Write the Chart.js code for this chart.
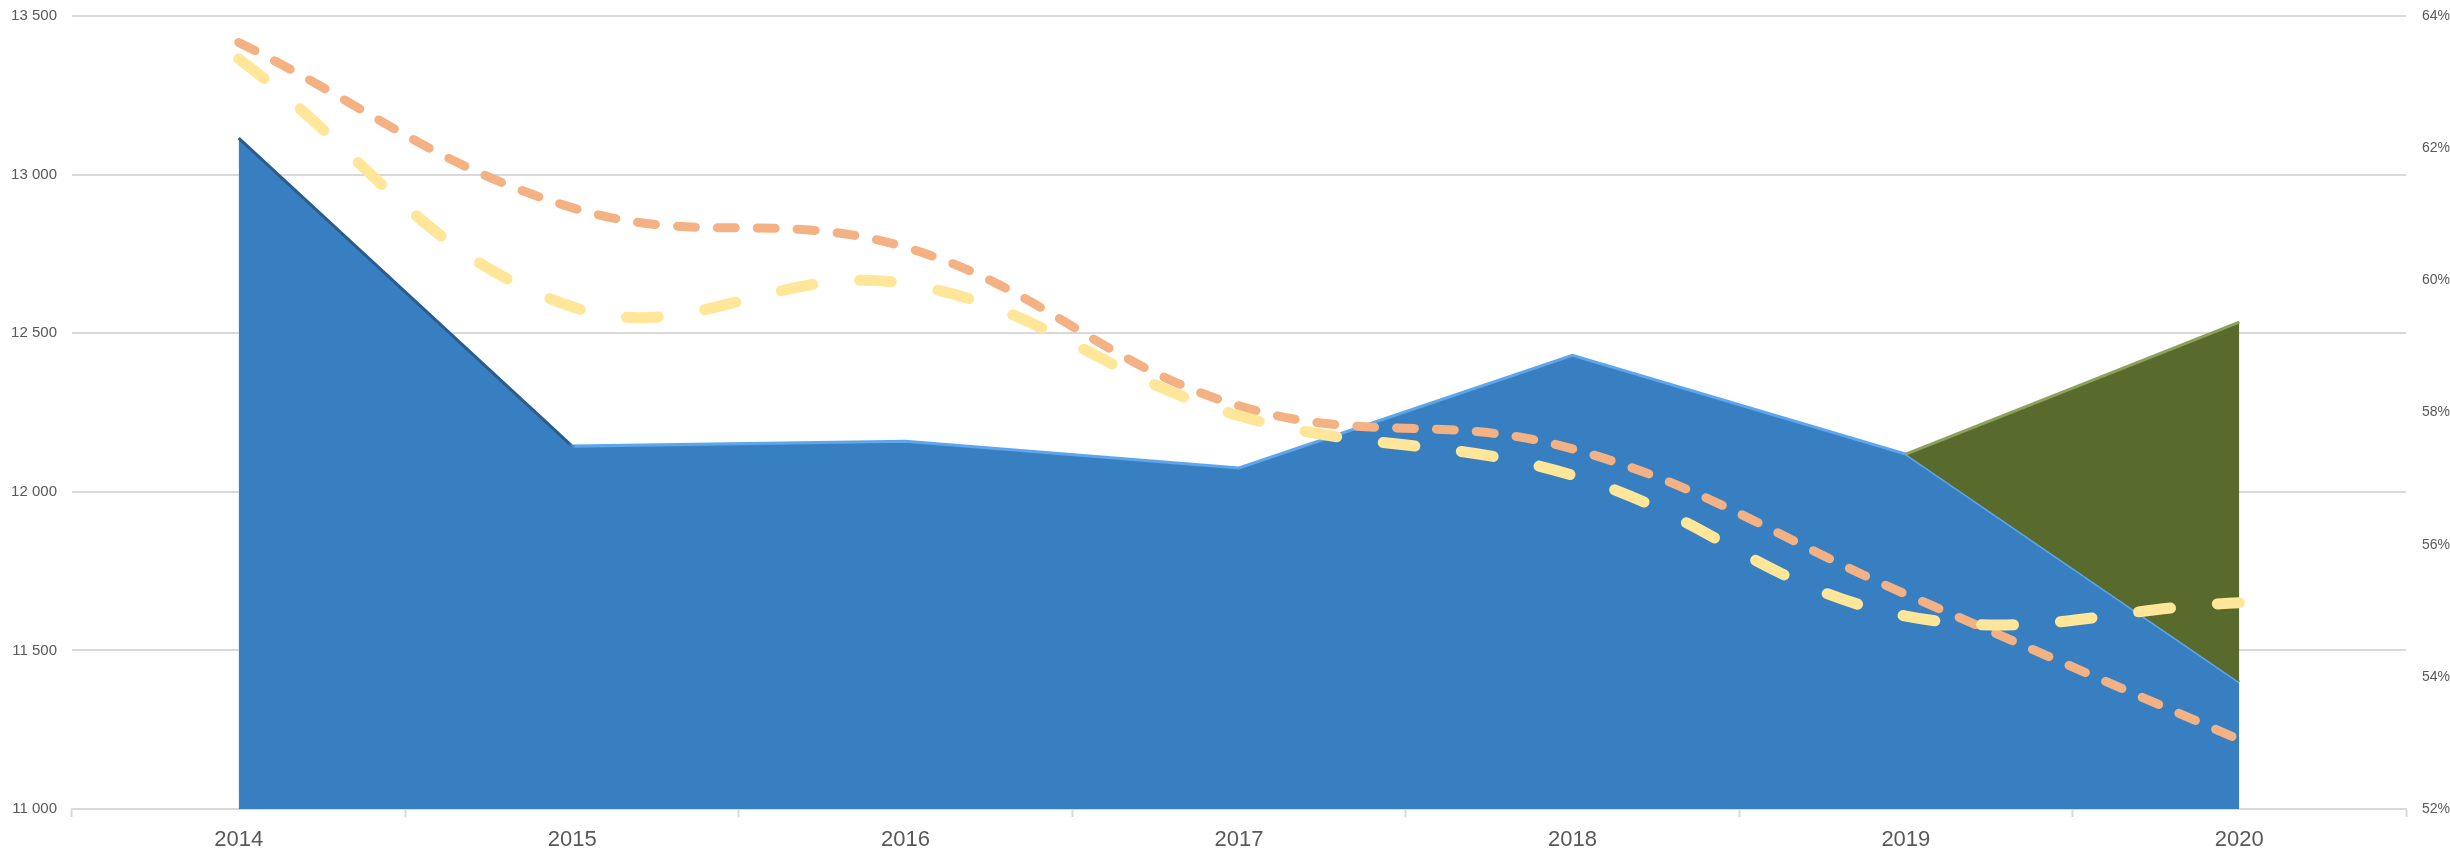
<!DOCTYPE html>
<html>
<head>
<meta charset="utf-8">
<script src="https://cdn.jsdelivr.net/npm/chart.js@4"></script>
<style>
  body { margin: 0; background: #fff; }
  canvas { display: block; }
</style>
</head>
<body>
<canvas id="chart" width="2450" height="855"></canvas>
<script>
// data
const years = ['2014', '2015', '2016', '2017', '2018', '2019', '2020']
const mainValues = [13115, 12144, 12159, 12075, 12430, 12119, 11400]
const forecastValues = [null, null, null, null, null, 12119, 12535]
const orangeShare = [63.6, 61.1, 60.5, 58.1, 57.45, 55.25, 53.05]
const yellowShare = [63.35, 59.6, 59.95, 57.95, 57.05, 54.92, 55.12]

const leftTicks = [11000, 11500, 12000, 12500, 13000, 13500]
const rightTicks = [52, 54, 56, 58, 60, 62, 64]

const labelColor = '#595959'
const gridColor = '#D9D9D9'

const spaced = (v) => v.toString().replace(/\B(?=(\d{3})+(?!\d))/g, ' ')

// bevel look: dark edge on the first drop, light highlight on the rest
const mainEdge = (c) => {
  const chart = c.chart
  if (!chart.chartArea || !chart.scales.x) return '#5DA6EC'
  const x = chart.scales.x
  const x0 = x.getPixelForValue(0)
  const x1 = x.getPixelForValue(years.length - 1)
  const g = chart.ctx.createLinearGradient(x0, 0, x1, 0)
  const s1 = 1 / (years.length - 1)
  g.addColorStop(0, '#2A5C8D')
  g.addColorStop(s1 - 0.002, '#2A5C8D')
  g.addColorStop(s1 + 0.002, '#5DA6EC')
  g.addColorStop(1, '#5DA6EC')
  return g
}

const fitSide = (w) => (s) => {
  s.width = w
  s.paddingTop = 0
  s.paddingBottom = 0
}

const ctx = document.getElementById('chart').getContext('2d')
const myChart = new Chart(ctx, {
  type: 'line',
  data: {
    labels: years,
    datasets: [
      {
        label: 'Main',
        data: mainValues,
        yAxisID: 'y',
        fill: 'start',
        backgroundColor: '#387FC2',
        borderColor: mainEdge,
        borderWidth: 3,
        tension: 0,
        pointRadius: 0,
        order: 3,
      },
      {
        label: 'Forecast',
        data: forecastValues,
        yAxisID: 'y',
        fill: 0,
        backgroundColor: '#586A2C',
        borderColor: '#8CA25C',
        borderWidth: 3,
        tension: 0,
        pointRadius: 0,
        order: 2,
      },
      {
        label: 'Orange',
        data: orangeShare,
        yAxisID: 'y2',
        fill: false,
        borderColor: '#F4B183',
        borderWidth: 9,
        borderDash: [18, 22],
        borderCapStyle: 'round',
        tension: 0.4,
        pointRadius: 0,
        order: 1,
      },
      {
        label: 'Yellow',
        data: yellowShare,
        yAxisID: 'y2',
        fill: false,
        borderColor: '#FFE699',
        borderWidth: 11,
        borderDash: [32, 47],
        borderCapStyle: 'round',
        tension: 0.4,
        pointRadius: 0,
        order: 0,
      },
    ],
  },
  options: {
    responsive: false,
    devicePixelRatio: 1,
    animation: false,
    layout: { autoPadding: false, padding: { top: 16, left: 0, right: 0, bottom: 0 } },
    scales: {
      x: {
        offset: true,
        grid: {
          display: true,
          offset: true,
          drawOnChartArea: false,
          drawTicks: true,
          tickLength: 8,
          tickColor: gridColor,
          tickWidth: 2,
        },
        border: { display: true, color: gridColor, width: 2 },
        ticks: {
          color: labelColor,
          padding: 10,
          font: { family: "'Liberation Sans', sans-serif", size: 22 },
        },
        afterFit: (s) => {
          s.height = 46
          s.paddingLeft = 0
          s.paddingRight = 0
        },
      },
      y: {
        position: 'left',
        min: 11000,
        max: 13500,
        afterBuildTicks: (s) => { s.ticks = leftTicks.map((v) => ({ value: v })) },
        grid: { color: gridColor, lineWidth: 2, drawTicks: false },
        border: { display: false },
        ticks: {
          color: labelColor,
          padding: 15,
          font: { family: "'Liberation Sans', sans-serif", size: 15 },
          callback: (v) => spaced(v),
        },
        afterFit: fitSide(72),
      },
      y2: {
        position: 'right',
        min: 52,
        max: 64,
        afterBuildTicks: (s) => { s.ticks = rightTicks.map((v) => ({ value: v })) },
        grid: { display: false, drawTicks: false },
        border: { display: false },
        ticks: {
          color: labelColor,
          padding: 16,
          font: { family: "'Liberation Sans', sans-serif", size: 14 },
          callback: (v) => v + '%',
        },
        afterFit: fitSide(44),
      },
    },
    plugins: {
      legend: { display: false },
      tooltip: { enabled: false },
    },
  },
})
</script>
</body>
</html>
